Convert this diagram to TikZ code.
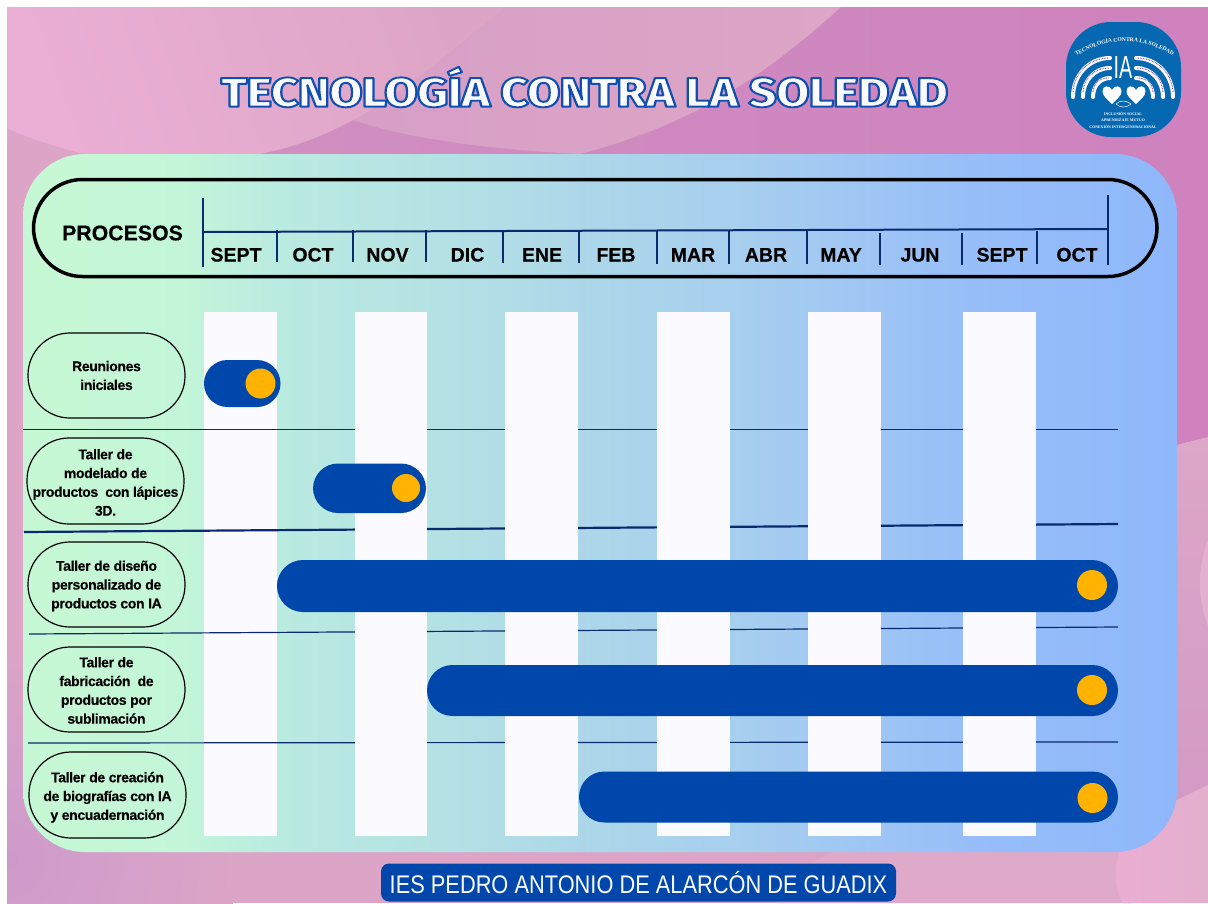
\documentclass[tikz,border=0pt]{standalone}
\usepackage{fontspec}
\setmainfont{Liberation Sans}
\newfontfamily\logoserif{Liberation Serif}
\newfontfamily\titlefont[LetterSpace=-1.5]{Fira Sans ExtraBold}
\newfontfamily\boxfont[BoldFeatures={LetterSpace=-2.5,FakeBold=0.35}]{Liberation Sans}
\newfontfamily\headfont[BoldFeatures={FakeBold=0.35}]{Liberation Sans}
\usetikzlibrary{decorations.text}
\definecolor{pA}{HTML}{C6F8D6}\definecolor{pB}{HTML}{C3F5D9}\definecolor{pC}{HTML}{BAEBE0}
\definecolor{pD}{HTML}{B4E2E4}\definecolor{pE}{HTML}{ACD6EA}\definecolor{pF}{HTML}{A5CCF0}
\definecolor{pG}{HTML}{97BEF8}\definecolor{pH}{HTML}{8FB8FB}
\definecolor{blobAa}{HTML}{EBAFD5}\definecolor{blobAb}{HTML}{DDA5C5}
\definecolor{barblue}{HTML}{0047AB}\definecolor{dotgold}{HTML}{FFB300}
\definecolor{navy}{HTML}{0B2A6D}\definecolor{colwhite}{HTML}{FBFAFF}
\definecolor{logoblue}{HTML}{0568B0}\definecolor{logopurple}{HTML}{8A5CB8}
\pgfdeclarehorizontalshading{panelgrad}{100bp}{color(0bp)=(pA); color(27bp)=(pA); color(32bp)=(pB); color(36bp)=(pC); color(43bp)=(pD); color(50bp)=(pE); color(58bp)=(pF); color(66bp)=(pG); color(75bp)=(pH); color(100bp)=(pH)}
\pgfdeclarehorizontalshading{blobAgrad}{100bp}{color(0bp)=(blobAa); color(25bp)=(blobAa); color(75bp)=(blobAb); color(100bp)=(blobAb)}
\tikzset{
  colbar/.style={fill=colwhite,draw=none},
  rowline/.style={draw=navy,line width=1.2pt},
  tickline/.style={draw=navy,line width=2pt},
  bluebar/.style={fill=barblue,draw=none},
  golddot/.style={fill=dotgold,draw=none},
  monthlabel/.style={font=\headfont\fontsize{19.5}{22}\selectfont\bfseries,text=black,inner sep=0pt},
  procbox/.style={draw=black,line width=1.2pt,rounded corners=42pt,inner sep=0pt,align=center,
    font=\boxfont\fontsize{14}{18.8}\selectfont\bfseries,text=black},
  logoarc/.style={draw=white,line width=4pt,line cap=round},
  logodots/.style={draw=logopurple,line width=1pt,dash pattern=on .8pt off .8pt},
  logoline/.style={font=\logoserif\bfseries\fontsize{3.9}{4.5}\selectfont,text=white,inner sep=0pt}
}
\newcommand{\logoheart}[2]{%
  \fill[white] (#1,#2+9) .. controls (#1-5,#2+4) and (#1-9.5,#2+1) .. (#1-9.5,#2-4)
   .. controls (#1-9.5,#2-10) and (#1-2,#2-10) .. (#1,#2-5)
   .. controls (#1+2,#2-10) and (#1+9.5,#2-10) .. (#1+9.5,#2-4)
   .. controls (#1+9.5,#2+1) and (#1+5,#2+4) .. (#1,#2+9) -- cycle;}
\begin{document}
\begin{tikzpicture}[x=1pt,y=-1pt]
\useasboundingbox (0,0) rectangle (1208,903);
\fill[white] (0,0) rectangle (1208,903);
\begin{scope}
\clip (7,7) rectangle (1208,903);
% base
\fill[fill={rgb,255:red,220;green,165;blue,199}] (7,7) rectangle (1208,903);
\shade[inner color={rgb,255:red,205;green,154;blue,203},outer color={rgb,255:red,220;green,165;blue,199}] (7,860) circle (230);
% purple upper area
\shade[left color={rgb,255:red,208;green,146;blue,194},right color={rgb,255:red,207;green,130;blue,190}]
  (7,7) -- (1208,7) -- (1208,437) -- (1177,445) -- (120,300) -- (120,154) -- (7,100) -- cycle;
% lower right zone
\shade[top color={rgb,255:red,221;green,167;blue,200},bottom color={rgb,255:red,210;green,154;blue,197}]
  (1150,445) -- (1177,445) -- (1208,437) -- (1208,790) -- (1150,810) -- cycle;
\fill[fill={rgb,255:red,227;green,176;blue,207}] (1320,583) circle (120);
% blob B
\shade[left color={rgb,255:red,214;green,158;blue,198},right color={rgb,255:red,221;green,166;blue,198}]
  (841,7) .. controls (760,80) and (690,125) .. (580,154)
  .. controls (500,150) and (410,140) .. (353,120) -- (300,7) -- cycle;
% blob A
\shade[shading=blobAgrad,shading angle=20]
  (7,7) -- (505,7) .. controls (440,60) and (400,95) .. (353,120)
  .. controls (320,138) and (290,148) .. (260,154) -- (170,170) -- (80,153)
  .. controls (50,145) and (25,137) .. (7,128) -- cycle;
% bottom wedge and bottom right blob
\fill[fill={rgb,255:red,223;green,169;blue,201}] (836,850) -- (805,866) -- (780,903) -- (1130,903) -- (1130,850) -- cycle;
\shade[left color={rgb,255:red,235;green,174;blue,211},right color={rgb,255:red,226;green,175;blue,204}]
  (1208,785) -- (1177,800) .. controls (1140,815) and (1116,840) .. (1116,875)
  .. controls (1116,885) and (1118,895) .. (1122,903) -- (1208,903) -- cycle;
\end{scope}

% main panel
\shade[shading=panelgrad,rounded corners=62pt] (23,154) rectangle (1177,852);

% title
\node[anchor=base,inner sep=0pt,font=\titlefont\fontsize{41}{44}\selectfont,text=colwhite] (title) at (584.5,106.6)
  {\scalebox{1.183}[1]{\special{pdf:code 2 Tr 1.9 w 1 j 0.06 0.31 0.69 RG}TECNOLOGÍA CONTRA LA SOLEDAD\special{pdf:code 0 Tr 1 w 0 j 0 G}}};

% logo
\fill[logoblue,rounded corners=45pt] (1066,22) rectangle (1181,137);
\path[decorate,decoration={text along path,text align=center,
   text={|\logoserif\bfseries\fontsize{5.6}{7}\selectfont\color{white}|TECNOLOGÍA CONTRA LA SOLEDAD}}]
   (1069,61) .. controls (1105,34.7) and (1145,34.7) .. (1180,61);
\foreach \r/\ex in {39/1,29/1,19/1}{
  \draw[logoarc] (1112-\r,97) .. controls +(0,-.55*\r) and +(-.55*\r,0) .. (1110,97-\r);
  \draw[logoarc] (1134+\r,97) .. controls +(0,-.55*\r) and +(.55*\r,0) .. (1136,97-\r);
  \draw[logodots] (1112-\r,92) .. controls +(1,-.5*\r) and +(-.5*\r,0) .. (1109,97-\r);
  \draw[logodots] (1134+\r,92) .. controls +(-1,-.5*\r) and +(.5*\r,0) .. (1137,97-\r);
}
\node[font=\fontsize{32}{32}\selectfont,text=white,inner sep=0pt] (logoia) at (1123,67) {\scalebox{.62}[1]{IA}};
\logoheart{1112}{95}
\logoheart{1136}{95}
\draw[white,line width=.5pt] (1116,104) .. controls (1120,100) and (1126,100) .. (1131,104) .. controls (1127,108) and (1120,108) .. (1116,104);
\node[logoline] (l1) at (1123,113.4) {INCLUSIÓN SOCIAL};
\node[logoline] (l2) at (1123,120.3) {APRENDIZAJE MUTUO};
\node[logoline] (l3) at (1123,127) {CONEXIÓN INTERGENERACIONAL};

% header pill
\draw[black,line width=3.5pt,rounded corners=49pt] (33.5,179.5) rectangle (1157,276.5);
\node[font=\headfont\fontsize{21.3}{24}\selectfont\bfseries,text=black,inner sep=0pt] (proc) at (122.5,233) {PROCESOS};
\draw[tickline] (203,198) -- (203,267);
\draw[tickline] (203,232) -- (1108,229);
\draw[tickline] (1108,195) -- (1108,265);
\foreach \x/\a/\b in {277/230/262,353/230/262,426/230/262,503/230/263,579/230/263,657/230/264,729/230/264,807/230/264,880/233/265,962/233/265,1037/231/264}
  \draw[tickline] (\x,\a) -- (\x,\b);
\foreach \n/\x/\t in {m1/236/SEPT,m2/313/OCT,m3/387.5/NOV,m4/467.5/DIC,m5/542/ENE,m6/616/FEB,m7/693/MAR,m8/766/ABR,m9/841/MAY,m10/920/JUN,m11/1002/SEPT,m12/1077/OCT}
  \node[monthlabel,anchor=base] (\n) at (\x,261.5) {\t};

% first column lies under the row lines
\fill[colbar] (204,312) rectangle (276.5,835.5);
\draw[rowline] (23,429.5) -- (1118,429.5);
\draw[rowline,line width=2.2pt] (24,532) -- (1118,524);
\draw[rowline] (29,634) -- (1118,627);
\draw[rowline] (28,743) -- (1118,742);
% other columns
\fill[colbar] (355,312) rectangle (427,835.5);
\fill[colbar] (505,312) rectangle (578,835.5);
\fill[colbar] (657,312) rectangle (729.5,835.5);
\fill[colbar] (808,312) rectangle (881,835.5);
\fill[colbar] (963,312) rectangle (1036,835.5);

% process boxes
\node[procbox,minimum width=157pt,minimum height=85pt] (p1) at (106.5,375.5) {Reuniones\\iniciales};
\node[procbox,minimum width=157pt,minimum height=86pt] (p2) at (105.5,481) {\rule{0pt}{13pt}Taller de\\modelado de\\productos\ \ con lápices\\3D.};
\node[procbox,minimum width=157pt,minimum height=85pt] (p3) at (106.5,584.5) {\rule{0pt}{13pt}Taller de diseño\\personalizado de\\productos con IA};
\node[procbox,minimum width=157pt,minimum height=85pt] (p4) at (106.5,689.5) {\rule{0pt}{12pt}Taller de\\fabricación\ \ de\\productos por\\sublimación};
\node[procbox,minimum width=157pt,minimum height=86pt] (p5) at (107.5,795) {\rule{0pt}{15pt}Taller de creación\\de biografías con IA\\y encuadernación};

% bars
\fill[bluebar,rounded corners=23.5pt] (204,360) rectangle (280.5,407);
\fill[golddot] (260.5,383.5) circle (15);
\fill[bluebar,rounded corners=25pt] (313,463.5) rectangle (426,513);
\fill[golddot] (406,488) circle (14);
\fill[bluebar,rounded corners=25.9pt] (277,560) rectangle (1118,612);
\fill[golddot] (1092,585) circle (15);
\fill[bluebar,rounded corners=25.4pt] (427,665) rectangle (1118,716);
\fill[golddot] (1092,690) circle (15);
\fill[bluebar,rounded corners=25.4pt] (579,771.5) rectangle (1118,822.5);
\fill[golddot] (1092.5,798) circle (15);

% footer
\node[fill=barblue,rounded corners=8pt,minimum width=515pt,minimum height=38pt,inner sep=0pt,
  font=\fontsize{25.5}{28}\selectfont,text=colwhite] (foot) at (638.5,882.5) {\scalebox{.855}[1]{IES PEDRO ANTONIO DE ALARCÓN DE GUADIX}};
\end{tikzpicture}
\end{document}
